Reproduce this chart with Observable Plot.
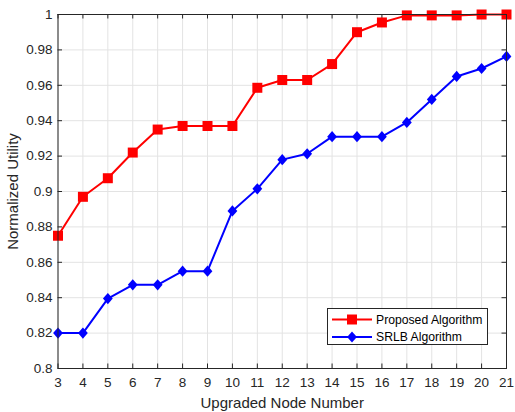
<!DOCTYPE html>
<html><head><meta charset="utf-8">
<script src="https://cdn.jsdelivr.net/npm/d3@7"></script>
<script src="https://cdn.jsdelivr.net/npm/@observablehq/plot@0.6"></script>
<style>
body{margin:0;background:#fff}
#wrap{position:relative;width:515px;height:412px;font-family:"Liberation Sans",Arial,sans-serif;color:#262626}
#legend{position:absolute;left:327px;top:308px;width:161px;height:37px;border:1px solid #262626;background:#fff;box-sizing:border-box}
#legend svg{position:absolute;left:0;top:0}
</style></head><body><div id="wrap"></div>
<script>
const nodes = [3,4,5,6,7,8,9,10,11,12,13,14,15,16,17,18,19,20,21];
const proposed = [0.875,0.897,0.9075,0.922,0.935,0.937,0.937,0.937,0.9586,0.963,0.963,0.972,0.990,0.9955,0.9995,0.9995,0.9995,1.0,1.0];
const srlb = [0.820,0.820,0.8395,0.8473,0.8473,0.855,0.855,0.889,0.9015,0.918,0.9213,0.931,0.931,0.931,0.939,0.952,0.965,0.9695,0.9763];
const yTicks = [0.8,0.82,0.84,0.86,0.88,0.9,0.92,0.94,0.96,0.98,1];
const xTicks = nodes;
const seriesNames = ["Proposed Algorithm","SRLB Algorithm"];
const seriesColors = ["#ff0000","#0000ff"];
const xLabel = "Upgraded Node Number";
const yLabel = "Normalized Utility";

const W = 515, H = 412, mL = 57.5, mR = 9, mT = 14, mB = 44;
const plotH = H - mT - mB, plotW = W - mL - mR;
const tk = 4.5;
const ink = "#262626";
const gridColor = "#e3e3e3";

const diamond = {
  draw(ctx, size) {
    const h = 5.6, w = 4.9;
    ctx.moveTo(0, -h); ctx.lineTo(w, 0); ctx.lineTo(0, h); ctx.lineTo(-w, 0); ctx.closePath();
  }
};

const rowsP = nodes.map((n, i) => ({n, v: proposed[i]}));
const rowsS = nodes.map((n, i) => ({n, v: srlb[i]}));

const chart = Plot.plot({
  width: W, height: H,
  marginLeft: mL, marginRight: mR, marginTop: mT, marginBottom: mB,
  style: {fontFamily: '"Liberation Sans", Arial, sans-serif', fontSize: "13.5px", color: ink, background: "#fff", overflow: "visible"},
  x: {domain: [3, 21]},
  y: {domain: [0.8, 1]},
  marks: [
    Plot.gridX(xTicks, {stroke: gridColor, strokeOpacity: 1}),
    Plot.gridY(yTicks, {stroke: gridColor, strokeOpacity: 1}),
    Plot.tickX(xTicks, {x: d => d, stroke: ink, insetTop: plotH - tk}),
    Plot.tickX(xTicks, {x: d => d, stroke: ink, insetBottom: plotH - tk}),
    Plot.tickY(yTicks, {y: d => d, stroke: ink, insetRight: plotW - tk}),
    Plot.tickY(yTicks, {y: d => d, stroke: ink, insetLeft: plotW - tk}),
    Plot.axisX(xTicks, {tickSize: 0, tickPadding: 9, tickFormat: d => String(d), label: null}),
    Plot.axisY(yTicks, {tickSize: 0, tickPadding: 5.5, tickFormat: d => String(d), label: null}),
    Plot.line(rowsP, {x: "n", y: "v", stroke: seriesColors[0], strokeWidth: 2}),
    Plot.dot(rowsP, {x: "n", y: "v", symbol: "square", r: 5.64, fill: seriesColors[0]}),
    Plot.line(rowsS, {x: "n", y: "v", stroke: seriesColors[1], strokeWidth: 2}),
    Plot.dot(rowsS, {x: "n", y: "v", symbol: diamond, r: 5, fill: seriesColors[1]}),
    Plot.frame({stroke: ink, strokeWidth: 1}),
    Plot.text([xLabel], {text: d => d, frameAnchor: "bottom", dy: 35, fontSize: 15, fill: ink, lineAnchor: "middle"}),
    Plot.text([yLabel], {text: d => d, frameAnchor: "left", dx: -45, rotate: -90, fontSize: 15, fill: ink, lineAnchor: "middle", textAnchor: "middle"})
  ]
});

const wrap = document.getElementById("wrap");
wrap.appendChild(chart);

// legend
const leg = document.createElement("div");
leg.id = "legend";
const ns = "http://www.w3.org/2000/svg";
const svg = document.createElementNS(ns, "svg");
svg.setAttribute("width", 161); svg.setAttribute("height", 37);
const rowY = [10.5, 28];
seriesNames.forEach((name, i) => {
  const y = rowY[i];
  const ln = document.createElementNS(ns, "line");
  ln.setAttribute("x1", 4); ln.setAttribute("x2", 44); ln.setAttribute("y1", y); ln.setAttribute("y2", y);
  ln.setAttribute("stroke", seriesColors[i]); ln.setAttribute("stroke-width", 2);
  svg.appendChild(ln);
  const mk = document.createElementNS(ns, "path");
  const cx = 24;
  mk.setAttribute("d", i === 0
    ? `M${cx-5},${y-5}h10v10h-10z`
    : `M${cx},${y-5.6}L${cx+4.9},${y}L${cx},${y+5.6}L${cx-4.9},${y}Z`);
  mk.setAttribute("fill", seriesColors[i]);
  svg.appendChild(mk);
  const t = document.createElementNS(ns, "text");
  t.setAttribute("x", 48); t.setAttribute("y", y);
  t.setAttribute("dy", "0.35em");
  t.setAttribute("font-size", "12.2px");
  t.setAttribute("fill", "#000");
  t.setAttribute("font-family", '"Liberation Sans", Arial, sans-serif');
  t.textContent = name;
  svg.appendChild(t);
});
leg.appendChild(svg);
wrap.appendChild(leg);
</script>
</body></html>
